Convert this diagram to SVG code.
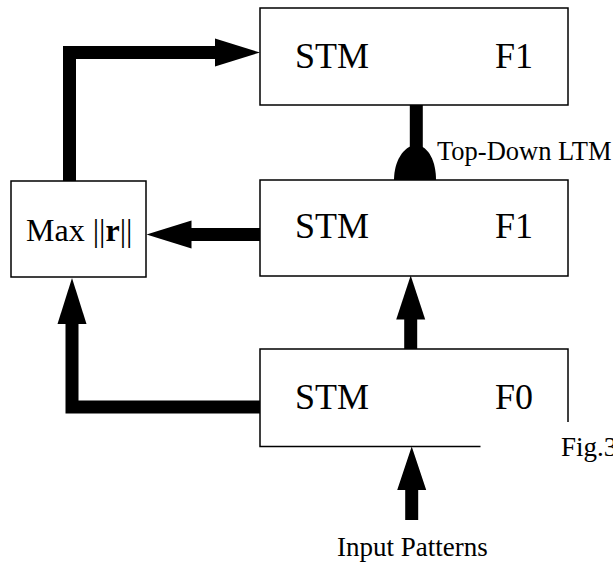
<svg xmlns="http://www.w3.org/2000/svg" width="613" height="562" viewBox="0 0 613 562">
<style>
.box{fill:#fff;stroke:#000;stroke-width:1.5}
.t{font-family:"Liberation Serif","Times New Roman",serif;fill:#000}
.big{font-size:36px}
.mid{font-size:32px}
.sm{font-size:26.5px}
.ip{font-size:27px}
.ln{fill:none;stroke:#000;stroke-width:13;stroke-linejoin:miter;stroke-linecap:butt}
.hd{fill:#000}
</style>
<rect width="613" height="562" fill="#fff"/>
<g id="f1top">
<rect class="box" x="260" y="8" width="308" height="97"/>
<text class="t big" x="295" y="68">STM</text>
<text class="t big" x="495" y="68">F1</text>
</g>
<g id="f1mid">
<rect class="box" x="260" y="180" width="308" height="96"/>
<text class="t big" x="295" y="238">STM</text>
<text class="t big" x="495" y="238">F1</text>
</g>
<g id="maxr">
<rect class="box" x="11" y="181" width="135" height="96"/>
<text class="t mid" x="26" y="241">Max ||<tspan font-weight="bold">r</tspan>||</text>
</g>
<g id="f0">
<rect class="box" x="260" y="349" width="308" height="97.5"/>
<text class="t big" x="295" y="409">STM</text>
<text class="t big" x="495" y="409">F0</text>
</g>
<g id="caption">
<rect x="480.5" y="422" width="140" height="50" fill="#fff"/>
<text class="t ip" x="561" y="456">Fig.3</text>
</g>
<g id="connectors">
<path class="ln" d="M69.5,181 V52.5 H216"/>
<polygon class="hd" points="215,38.5 260,52.5 215,66.5"/>
<path class="ln" d="M260,234.5 H190"/>
<polygon class="hd" points="191.5,220.5 146.5,234.5 191.5,248.5"/>
<path class="ln" d="M260,407 H72 V323"/>
<polygon class="hd" points="57.5,324 72,278 86.5,324"/>
<path class="ln" d="M410.7,349 V318"/>
<polygon class="hd" points="396.2,319.5 410.7,275.5 425.2,319.5"/>
<path class="ln" d="M411.7,520 V489"/>
<polygon class="hd" points="397.2,490 411.7,446.5 426.2,490"/>
<path class="ln" d="M416.3,105 V160"/>
<path class="hd" d="M394,180 C394,162 403,146 416,145 C429,146 436,162 436,180 Z"/>
</g>
<text class="t sm" x="437" y="160">Top-Down LTM</text>
<text class="t ip" x="337" y="556">Input Patterns</text>
</svg>
